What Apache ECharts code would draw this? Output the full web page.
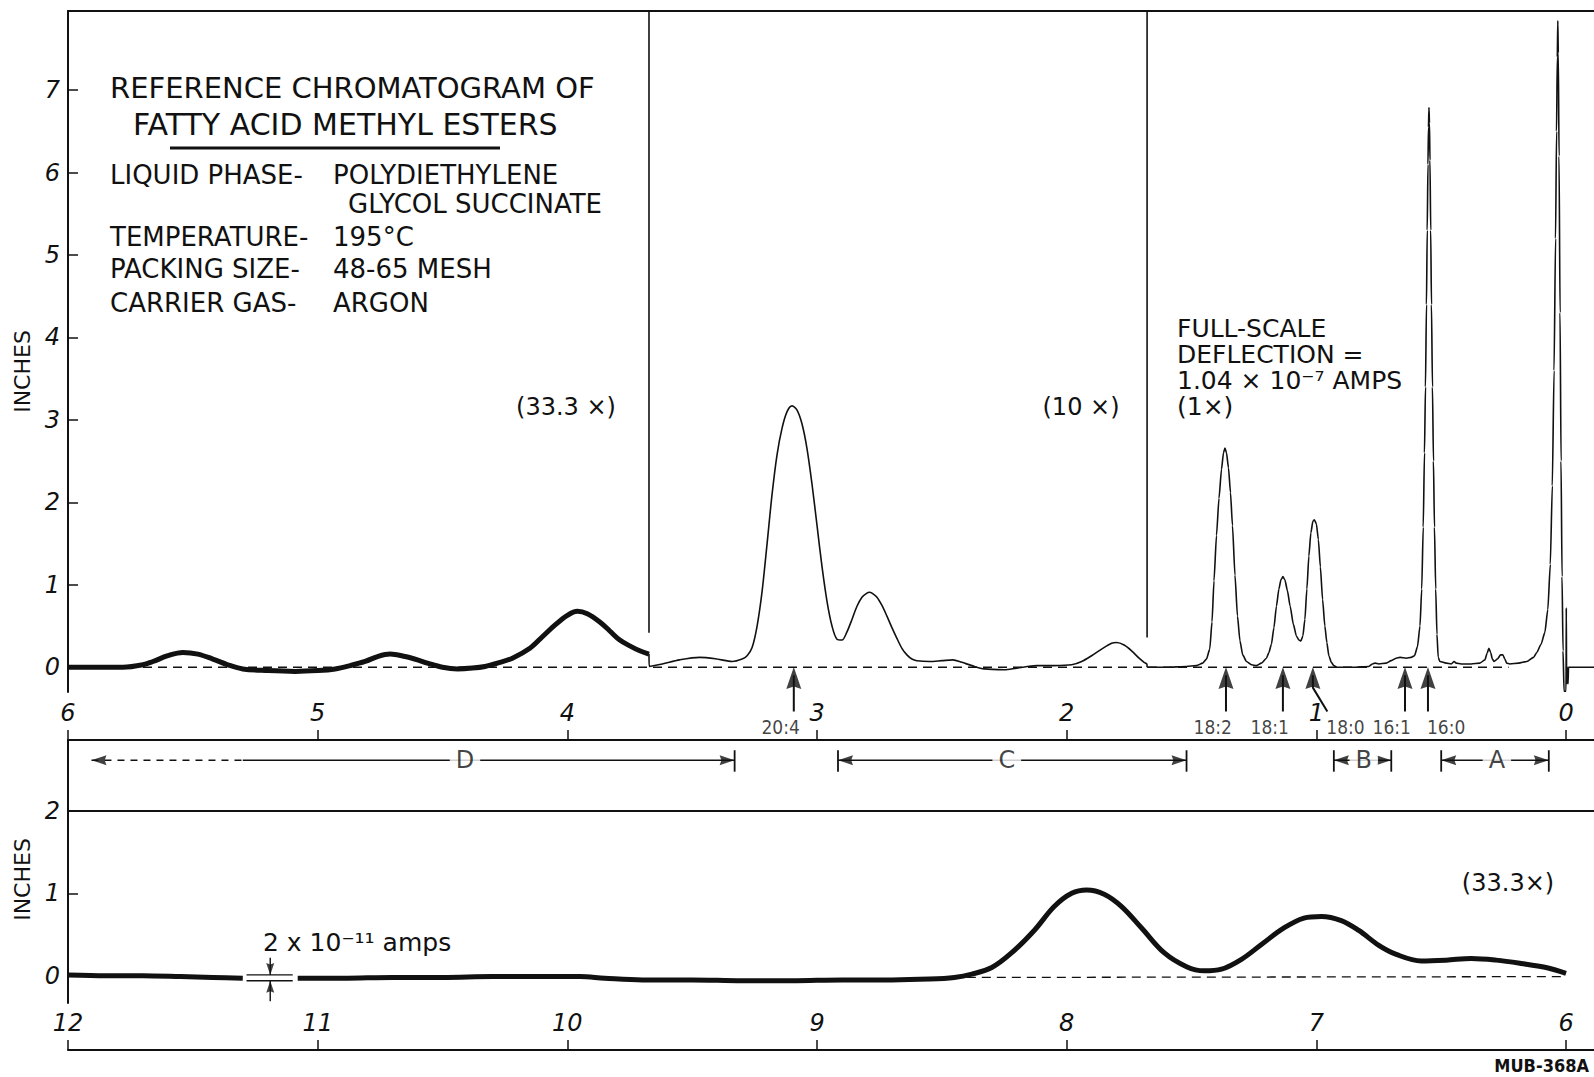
<!DOCTYPE html>
<html><head><meta charset="utf-8">
<script src="https://cdn.jsdelivr.net/npm/echarts@6/dist/echarts.min.js"></script>
<style>html,body{margin:0;padding:0;background:#fff}#c{width:1594px;height:1077px}</style>
</head><body><div id="c"></div>
<script>
// ---------------- data ----------------
const topTicks = [0,1,2,3,4,5,6];
const lowTicks = [6,7,8,9,10,11,12];
const topYTicks = [0,1,2,3,4,5,6,7];
const lowYTicks = [0,1,2];

// top record, 33.3x attenuation (thick trace)
const trace33 = [[6.00,0.00],[5.90,0.00],[5.78,0.00],[5.70,0.03],[5.66,0.07],[5.60,0.14],[5.54,0.18],[5.48,0.16],[5.42,0.10],[5.36,0.03],[5.30,-0.02],[5.20,-0.04],[5.09,-0.05],[5.00,-0.04],[4.93,-0.02],[4.87,0.02],[4.81,0.07],[4.76,0.13],[4.71,0.16],[4.65,0.13],[4.60,0.09],[4.56,0.05],[4.50,0.00],[4.44,-0.02],[4.38,-0.01],[4.33,0.01],[4.28,0.05],[4.22,0.11],[4.15,0.23],[4.10,0.37],[4.05,0.51],[4.00,0.63],[3.96,0.68],[3.92,0.65],[3.87,0.55],[3.83,0.44],[3.79,0.33],[3.75,0.26],[3.71,0.20],[3.673,0.16]];
// top record, 10x attenuation
const trace10 = [[3.673,0.16],[3.672,0.01],[3.62,0.04],[3.55,0.09],[3.47,0.12],[3.40,0.10],[3.34,0.07],[3.30,0.10],[3.28,0.14],[3.26,0.24],[3.24,0.50],[3.22,0.92],[3.20,1.50],[3.18,2.10],[3.16,2.58],[3.14,2.90],[3.12,3.10],[3.10,3.17],[3.08,3.12],[3.06,2.95],[3.04,2.65],[3.02,2.22],[3.00,1.72],[2.98,1.22],[2.96,0.80],[2.94,0.50],[2.92,0.34],[2.90,0.33],[2.88,0.43],[2.86,0.58],[2.84,0.74],[2.82,0.85],[2.80,0.90],[2.79,0.91],[2.78,0.90],[2.76,0.85],[2.74,0.75],[2.72,0.62],[2.70,0.48],[2.68,0.35],[2.66,0.23],[2.64,0.15],[2.62,0.10],[2.60,0.08],[2.55,0.07],[2.50,0.08],[2.456,0.09],[2.42,0.06],[2.38,0.02],[2.33,-0.02],[2.25,-0.03],[2.20,-0.01],[2.12,0.02],[2.05,0.02],[1.98,0.03],[1.94,0.07],[1.90,0.14],[1.86,0.22],[1.82,0.29],[1.80,0.30],[1.77,0.27],[1.74,0.20],[1.71,0.11],[1.69,0.06],[1.679,0.04],[1.678,0.00]];
// top record, 1x attenuation
const trace1 = [[1.678,0.00],[1.60,0.00],[1.52,0.01],[1.48,0.02],[1.455,0.05],[1.44,0.10],[1.427,0.22],[1.418,0.55],[1.41,1.05],[1.40,1.60],[1.39,2.05],[1.38,2.40],[1.372,2.60],[1.366,2.66],[1.36,2.60],[1.352,2.42],[1.344,2.12],[1.336,1.72],[1.326,1.12],[1.316,0.62],[1.306,0.32],[1.295,0.15],[1.28,0.07],[1.26,0.03],[1.24,0.02],[1.22,0.05],[1.20,0.11],[1.19,0.18],[1.18,0.28],[1.17,0.48],[1.16,0.74],[1.15,0.95],[1.142,1.06],[1.134,1.10],[1.126,1.06],[1.116,0.93],[1.105,0.74],[1.092,0.52],[1.08,0.38],[1.07,0.33],[1.062,0.32],[1.054,0.38],[1.046,0.58],[1.038,0.95],[1.03,1.35],[1.022,1.63],[1.014,1.77],[1.008,1.79],[1.0,1.74],[0.992,1.55],[0.984,1.22],[0.975,0.82],[0.966,0.50],[0.958,0.30],[0.95,0.14],[0.94,0.06],[0.93,0.02],[0.918,0.00],[0.85,0.00],[0.79,0.01],[0.775,0.04],[0.765,0.05],[0.75,0.04],[0.72,0.05],[0.70,0.08],[0.68,0.11],[0.665,0.12],[0.64,0.11],[0.62,0.12],[0.607,0.14],[0.595,0.25],[0.585,0.50],[0.578,0.95],[0.572,1.70],[0.567,2.60],[0.563,3.40],[0.559,4.40],[0.556,5.30],[0.553,6.10],[0.551,6.55],[0.549,6.79],[0.547,6.60],[0.545,6.15],[0.542,5.30],[0.539,4.40],[0.535,3.40],[0.531,2.50],[0.527,1.70],[0.522,0.95],[0.517,0.40],[0.512,0.12],[0.505,0.07],[0.48,0.05],[0.46,0.04],[0.448,0.07],[0.44,0.05],[0.42,0.04],[0.38,0.04],[0.345,0.05],[0.325,0.09],[0.316,0.17],[0.309,0.23],[0.302,0.18],[0.295,0.10],[0.288,0.07],[0.275,0.10],[0.262,0.15],[0.253,0.15],[0.245,0.10],[0.238,0.05],[0.225,0.04],[0.19,0.05],[0.157,0.07],[0.13,0.12],[0.117,0.18],[0.10,0.28],[0.085,0.42],[0.073,0.70],[0.063,1.25],[0.055,2.20],[0.048,3.60],[0.042,5.20],[0.038,6.50],[0.035,7.40],[0.033,7.84],[0.031,7.45],[0.028,6.20],[0.024,4.30],[0.020,2.50],[0.016,1.10],[0.012,0.20],[0.008,-0.29],[0.000,-0.29],[-0.001,0.72],[-0.002,0.00],[-0.004,-0.20],[-0.006,0.00],[-0.008,-0.20],[-0.010,0.00],[-0.112,0.00]];
const topBaseline = [[6.00,0.00],[0.23,0.00]];
// pen jumps to full scale at attenuation changes
const gainChangeX = [3.673,1.678];
const gainChangeLow = [0.42,0.36];

// lower record (continuation, 33.3x)
const lowTraceA = [[12.00,0.01],[11.85,0.00],[11.70,0.00],[11.55,-0.01],[11.42,-0.02],[11.30,-0.03]];
const lowTraceB = [[11.08,-0.03],[10.90,-0.03],[10.70,-0.02],[10.50,-0.02],[10.30,-0.01],[10.10,-0.01],[9.95,-0.01],[9.85,-0.03],[9.70,-0.05],[9.50,-0.05],[9.30,-0.06],[9.10,-0.06],[8.90,-0.05],[8.70,-0.05],[8.55,-0.04],[8.45,-0.02],[8.38,0.02],[8.30,0.10],[8.22,0.28],[8.13,0.55],[8.05,0.84],[7.98,1.00],[7.92,1.04],[7.85,0.99],[7.78,0.84],[7.70,0.58],[7.61,0.28],[7.52,0.11],[7.45,0.06],[7.38,0.08],[7.30,0.20],[7.22,0.38],[7.13,0.58],[7.05,0.70],[6.98,0.72],[6.90,0.67],[6.83,0.55],[6.75,0.37],[6.68,0.26],[6.58,0.18],[6.48,0.19],[6.38,0.21],[6.28,0.19],[6.18,0.15],[6.08,0.10],[6.00,0.03]];
const lowBaseline = [[8.40,-0.02],[6.00,-0.01]];
const calibLevels = [0.01,-0.06];
const calibSpan = [11.285,11.10];
const calibArrowX = 11.19;
const calibArrowTails = [0.22,-0.31];

// identified peaks
const peakNames = ['20:4','18:2','18:1','18:0','16:1','16:0'];
const peakTipX = [3.093,1.362,1.134,1.014,0.645,0.553];
const peakTailX = [3.093,1.362,1.134,0.956,0.645,0.553];
const peakLabelSide = ['left','left','left','right','left','right'];

// collected fractions
const bandNames = ['D','C','B','A'];
const bandStart = [5.906,2.916,0.93,0.50];
const bandEnd = [3.33,1.52,0.70,0.069];
const bandLabelAt = [4.41,2.24,0.81,0.277];
const bandOpenStart = [true,false,false,false];
const bandDashTo = 5.30;

// texts
const titleLines = ['REFERENCE CHROMATOGRAM OF','FATTY ACID METHYL ESTERS'];
const conditionLabels = ['LIQUID PHASE-','TEMPERATURE-','PACKING SIZE-','CARRIER GAS-'];
const conditionValues = [['POLYDIETHYLENE','GLYCOL SUCCINATE'],['195°C'],['48-65 MESH'],['ARGON']];
const gainNotes = ['(33.3 ×)','(10 ×)'];
const fullScaleNote = ['FULL-SCALE','DEFLECTION =','1.04 × 10⁻⁷ AMPS','(1×)'];
const lowGainNote = '(33.3×)';
const calibNote = '2 x 10⁻¹¹ amps';
const figureId = 'MUB-368A';
const axisTitle = 'INCHES';

// ---------------- chart ----------------
const INK = '#111';
const FONT = "'DejaVu Sans', sans-serif";
const CFONT = "'DejaVu Sans Condensed', 'DejaVu Sans', sans-serif";
const ARROW = 'path://M7,0L14,21L7,18.5L0,21Z';
const BAND_Y = -1.13;

const chart = echarts.init(document.getElementById('c'), null, {renderer:'svg'});

const tickFont = {color:INK, fontFamily:FONT, fontStyle:'italic', fontSize:24};
function xAx(gi, min, max, ticks, offset) {
  return {gridIndex:gi, type:'value', inverse:true, min, max, position:'bottom', offset,
    axisLine:{show:true, onZero:false, lineStyle:{color:INK, width:2}},
    axisTick:{show:true, inside:true, length:10, customValues:ticks, lineStyle:{color:INK, width:1.5}},
    axisLabel:Object.assign({show:true, inside:true, margin:15, customValues:ticks}, tickFont),
    splitLine:{show:false}, minorTick:{show:false}};
}
function yAx(gi, min, max, ticks, pad) {
  return {gridIndex:gi, type:'value', min, max, name:axisTitle, nameLocation:'middle', nameGap:32,
    nameTextStyle:{color:INK, fontFamily:FONT, fontSize:22, padding:pad},
    axisLine:{show:true, onZero:false, lineStyle:{color:INK, width:2}},
    axisTick:{show:true, inside:true, length:10, customValues:ticks, lineStyle:{color:INK, width:1.5}},
    axisLabel:Object.assign({show:true, margin:8, customValues:ticks}, tickFont),
    splitLine:{show:false}};
}
function line(data, xi, yi, width, extra) {
  return Object.assign({type:'line', xAxisIndex:xi, yAxisIndex:yi, data, symbol:'none', showSymbol:false,
    silent:true, lineStyle:{color:INK, width}, z:3}, extra || {});
}

const series = [];
// top record
series.push(line(trace33, 0, 0, 5, {smooth:0.35}));
series.push(line(trace10, 0, 0, 1.6, {smooth:0.3}));
series.push(line(trace1, 0, 0, 1.6, {smooth:0.2, smoothMonotone:'x'}));
gainChangeX.forEach((x,i) => series.push(line([[x,gainChangeLow[i]],[x,7.96]], 0, 0, 1.6)));
series.push(line(topBaseline, 0, 0, 1.3, {lineStyle:{color:INK, width:1.3, type:[9,6]}}));
// lower record
series.push(line(lowTraceA, 2, 1, 5, {smooth:0.3}));
series.push(line(lowTraceB, 2, 1, 5, {smooth:0.35}));
series.push(line(lowBaseline, 2, 1, 1.3, {lineStyle:{color:INK, width:1.3, type:[9,6]},
  markLine:{silent:true, symbol:'none', label:{show:false}, lineStyle:{color:INK, width:2, type:'solid'}, data:[{yAxis:2}]}}));
calibLevels.forEach(v => series.push(line([[calibSpan[0],v],[calibSpan[1],v]], 2, 1, 1.3)));
calibArrowTails.forEach((t,i) => series.push(line([[calibArrowX,t],[calibArrowX,calibLevels[i]]], 2, 1, 1.4)));
series.push({type:'scatter', xAxisIndex:2, yAxisIndex:1, symbol:ARROW, silent:true, z:5, itemStyle:{color:INK},
  data:[{value:[calibArrowX,calibLevels[0]], symbolSize:[8,12], symbolRotate:180, symbolOffset:[0,-6]},
        {value:[calibArrowX,calibLevels[1]], symbolSize:[8,12], symbolRotate:0, symbolOffset:[0,6]}]});

// peak arrows (overlay grid)
peakNames.forEach((n,i) => series.push(line([[peakTipX[i],-0.1],[peakTipX[i],-0.25],[peakTailX[i],-0.54]], 3, 2, 2)));
const heads = peakTipX.map(x => ({value:[x,0], symbolSize:[15,22], symbolOffset:[0,11], symbolRotate:0}));
// fraction bands
bandNames.forEach((n,i) => {
  if (bandOpenStart[i]) {
    series.push(line([[bandStart[i],BAND_Y],[bandDashTo,BAND_Y]], 3, 2, 1.5, {lineStyle:{color:INK, width:1.5, type:[7,6]}}));
    series.push(line([[bandDashTo,BAND_Y],[bandEnd[i],BAND_Y]], 3, 2, 1.5));
  } else {
    series.push(line([[bandStart[i],BAND_Y],[bandEnd[i],BAND_Y]], 3, 2, 1.5));
    series.push(line([[bandStart[i],BAND_Y+0.12],[bandStart[i],BAND_Y-0.14]], 3, 2, 1.8));
  }
  series.push(line([[bandEnd[i],BAND_Y+0.12],[bandEnd[i],BAND_Y-0.14]], 3, 2, 1.8));
  heads.push({value:[bandStart[i],BAND_Y], symbolSize:[10,15], symbolRotate:90, symbolOffset:[7.5,0]});
  heads.push({value:[bandEnd[i],BAND_Y], symbolSize:[10,15], symbolRotate:-90, symbolOffset:[-7.5,0]});
});
series.push({type:'scatter', xAxisIndex:3, yAxisIndex:2, symbol:ARROW, silent:true, z:5, itemStyle:{color:INK}, data:heads});
series.push({type:'scatter', xAxisIndex:3, yAxisIndex:2, symbol:'circle', symbolSize:1, silent:true, z:6,
  itemStyle:{color:'rgba(0,0,0,0)'},
  data:peakNames.map((n,i) => ({name:n, value:[peakTailX[i],-0.54],
    label:{align: peakLabelSide[i]==='left' ? 'right' : 'left', offset:[peakLabelSide[i]==='left' ? 6 : -1, 15]}})),
  label:{show:true, position:'inside', formatter:'{b}', color:INK, fontFamily:CFONT, fontSize:19}});
series.push({type:'scatter', xAxisIndex:3, yAxisIndex:2, symbol:'circle', symbolSize:1, silent:true, z:7,
  itemStyle:{color:'rgba(0,0,0,0)'},
  data:bandNames.map((n,i) => ({name:n, value:[bandLabelAt[i],BAND_Y]})),
  label:{show:true, position:'inside', formatter:'{b}', color:INK, fontFamily:FONT, fontSize:24,
    backgroundColor:'#fff', padding:[1,6]}});

// texts
function txt(s, x, y, size, extra) {
  return {type:'text', x, y, silent:true, z:20, style:Object.assign({text:s, fill:INK,
    font:size+'px '+FONT, fontSize:size, fontFamily:FONT, textVerticalAlign:'middle', verticalAlign:'middle',
    textAlign:'left', align:'left'}, extra || {})};
}
const graphics = [
  txt(titleLines[0], 110, 88, 29),
  txt(titleLines[1], 133, 124, 30),
  {type:'line', silent:true, z:20, shape:{x1:170, y1:148, x2:500, y2:148}, style:{stroke:INK, lineWidth:3}},
];
const rowY = [175, 237, 269, 303];
conditionLabels.forEach((s,i) => {
  graphics.push(txt(s, 110, rowY[i], 26));
  conditionValues[i].forEach((v,j) => graphics.push(txt(v, j === 0 ? 333 : 348, rowY[i] + j*29, 26)));
});
graphics.push(txt(gainNotes[0], 566, 407, 24, {textAlign:'center', align:'center'}));
graphics.push(txt(gainNotes[1], 1081, 407, 24, {textAlign:'center', align:'center'}));
fullScaleNote.forEach((s,i) => graphics.push(txt(s, 1177, 328 + i*26, 25)));
graphics.push(txt(lowGainNote, 1508, 883, 24, {textAlign:'center', align:'center'}));
graphics.push(txt(calibNote, 263, 942, 25));
graphics.push({type:'text', x:1589, y:1065, silent:true, z:20, style:{text:figureId, fill:INK,
  font:"bold 18px 'DejaVu Sans Condensed', sans-serif", textAlign:'right', align:'right',
  textVerticalAlign:'middle', verticalAlign:'middle'}});

chart.setOption({
  animation:false,
  backgroundColor:'#fff',
  textStyle:{fontFamily:FONT},
  grid:[
    {left:68, right:0, top:11, height:681, outerBoundsMode:'none', containLabel:false},
    {left:68, right:0, top:740, height:263, outerBoundsMode:'none', containLabel:false},
    {left:68, right:0, top:11, height:799, outerBoundsMode:'none', containLabel:false}
  ],
  xAxis:[
    xAx(0, -0.112, 6, topTicks, 48),
    {gridIndex:0, type:'value', inverse:true, min:-0.112, max:6, position:'top',
      axisLine:{show:true, onZero:false, lineStyle:{color:INK, width:2}}, axisTick:{show:false}, axisLabel:{show:false}, splitLine:{show:false}},
    xAx(1, 5.888, 12, lowTicks, 47),
    {gridIndex:2, type:'value', inverse:true, min:-0.112, max:6, show:false}
  ],
  yAxis:[
    yAx(0, -0.3, 7.96, topYTicks, [0,40,0,0]),
    yAx(1, -0.33, 2.86, lowYTicks, [0,16,0,0]),
    {gridIndex:2, type:'value', min:-1.735, max:7.96, show:false}
  ],
  series,
  graphic:graphics
});
</script></body></html>
